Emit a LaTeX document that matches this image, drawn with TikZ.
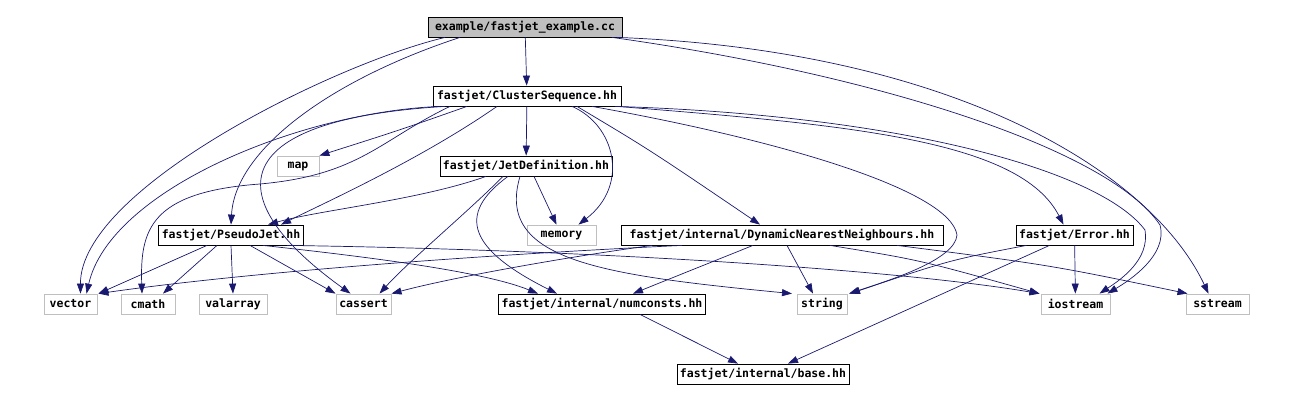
\documentclass[tikz,border=0pt]{standalone}
\usepackage{fontspec}
\setmonofont{DejaVu Sans Mono}
\usepackage{tikz}
\usetikzlibrary{arrows.meta}
\usepackage{xcolor}
\definecolor{depblue}{HTML}{191970}
\definecolor{sysgray}{HTML}{BFBFBF}
\tikzset{
 hdr/.style={draw=black, fill=white, line width=0.8pt, minimum height=20pt, inner sep=3pt,
  font=\ttfamily\bfseries\fontsize{11.5}{13}\selectfont},
 syshdr/.style={hdr, draw=sysgray},
 srcfile/.style={hdr, fill=sysgray},
 dep/.style={draw=depblue, line width=0.7pt, -{Triangle[length=10pt,width=7pt]}}
}

\begin{document}
\begin{tikzpicture}[x=1pt, y=-1pt]
 \useasboundingbox (0,0) rectangle (1289,401);
%
 \node[srcfile, minimum width=194pt] (root) at (525,27) {example/fastjet\_example.cc};
 \node[hdr, minimum width=188pt] (cs) at (527,96) {fastjet/ClusterSequence.hh};
%
 \node[syshdr, minimum width=42pt] (map) at (298,166) {map};
 \node[hdr, minimum width=164pt] (jetdef) at (526,166) {fastjet/JetDefinition.hh};
%
 \node[hdr, minimum width=144pt] (pseudojet) at (231,235) {fastjet/PseudoJet.hh};
 \node[syshdr, minimum width=69pt] (memory) at (561.5,235) {memory};
 \node[hdr, minimum width=322pt] (dnn) at (782,235) {fastjet/internal/DynamicNearestNeighbours.hh};
 \node[hdr, minimum width=115pt] (error) at (1074.5,235) {fastjet/Error.hh};
%
 \node[syshdr, minimum width=53pt] (vector) at (70.5,304) {vector};
 \node[syshdr, minimum width=54pt] (cmath) at (148,304) {cmath};
 \node[syshdr, minimum width=68pt] (valarray) at (233,304) {valarray};
 \node[syshdr, minimum width=55pt] (cassert) at (363.5,304) {cassert};
 \node[hdr, minimum width=204pt] (numconsts) at (602,304) {fastjet/internal/numconsts.hh};
 \node[syshdr, minimum width=50pt] (string) at (822,304) {string};
 \node[syshdr, minimum width=69pt] (iostream) at (1075.5,304) {iostream};
 \node[syshdr, minimum width=63pt] (sstream) at (1217.5,304) {sstream};
%
 \node[hdr, minimum width=164pt] (base) at (763,374) {fastjet/internal/base.hh};
%
 % example/fastjet_example.cc
 \draw[dep] (root) -- (cs);
 \draw[dep] ([xshift=-80pt]root.south) .. controls (330,65) and (80,190) .. ([xshift=10pt]vector.north);
 \draw[dep] ([xshift=-65pt]root.south) .. controls (330,80) and (235,150) .. (pseudojet.north);
 \draw[dep] ([xshift=87pt]root.south) .. controls (880,75) and (1110,150) .. (1160,225)
  .. controls (1168,255) and (1130,280) .. ([xshift=32pt]iostream.north);
 \draw[dep] ([xshift=92pt]root.south) .. controls (950,50) and (1150,170) .. ([xshift=-9pt]sstream.north);
%
 % fastjet/ClusterSequence.hh
 \draw[dep] (cs) -- (jetdef);
 \draw[dep] ([xshift=-60pt]cs.south) .. controls (400,130) .. (map.north east);
 \draw[dep] ([xshift=-87pt]cs.south) .. controls (300,112) and (110,190) .. ([xshift=16pt]vector.north);
 \draw[dep] ([xshift=-77pt]cs.south) .. controls (380,140) and (360,175) .. (260,184)
  .. controls (150,192) and (140,230) .. ([xshift=-6pt]cmath.north);
 \draw[dep] ([xshift=-82pt]cs.south) .. controls (220,120) and (220,200) .. ([xshift=-13pt]cassert.north);
 \draw[dep] ([xshift=-30pt]cs.south) .. controls (420,160) and (320,205) .. ([xshift=50pt]pseudojet.north);
 \draw[dep] ([xshift=45pt]cs.south) .. controls (615,125) and (630,185) .. ([xshift=17pt]memory.north);
 \draw[dep] ([xshift=50pt]cs.south) .. controls (650,150) .. ([xshift=-22pt]dnn.north);
 \draw[dep] ([xshift=90pt]cs.south) .. controls (850,125) and (1020,140) .. ([xshift=-11pt]error.north);
 \draw[dep] ([xshift=88pt]cs.south) .. controls (900,115) and (1100,170) .. (1145,230)
  .. controls (1150,260) and (1120,280) .. ([xshift=24pt]iostream.north);
 \draw[dep] ([xshift=65pt]cs.south) .. controls (780,140) and (950,190) .. (957,235)
  .. controls (955,260) and (890,280) .. ([xshift=27pt]string.north);
%
 % fastjet/JetDefinition.hh
 \draw[dep] ([xshift=8pt]jetdef.south) -- ([xshift=-5pt]memory.north);
 \draw[dep] ([xshift=-40pt]jetdef.south) .. controls (420,200) and (320,210) .. ([xshift=37pt]pseudojet.north);
 \draw[dep] ([xshift=-23pt]jetdef.south) .. controls (470,210) and (410,260) .. ([xshift=16pt]cassert.north);
 \draw[dep] ([xshift=-18pt]jetdef.south) .. controls (455,215) and (470,250) .. ([xshift=-45pt]numconsts.north);
 \draw[dep] ([xshift=-6pt]jetdef.south) .. controls (495,260) and (600,275) .. ([xshift=-30pt]string.north);
%
 % fastjet/PseudoJet.hh
 \draw[dep] ([xshift=-24pt]pseudojet.south) -- ([xshift=28pt]vector.north);
 \draw[dep] ([xshift=-14pt]pseudojet.south) -- ([xshift=15pt]cmath.north);
 \draw[dep] (pseudojet.south) -- (valarray.north);
 \draw[dep] ([xshift=19pt]pseudojet.south) -- ([xshift=-28pt]cassert.north);
 \draw[dep] ([xshift=32pt]pseudojet.south) .. controls (350,255) and (480,270) .. ([xshift=-64pt]numconsts.north);
 \draw[dep] ([xshift=56pt]pseudojet.south) .. controls (600,250) and (900,270) .. ([xshift=-36pt]iostream.north);
%
 % fastjet/internal/DynamicNearestNeighbours.hh
 \draw[dep] ([xshift=-100pt]dnn.south) .. controls (480,255) and (250,272) .. ([xshift=28pt]vector.north);
 \draw[dep] ([xshift=-130pt]dnn.south) .. controls (560,258) and (450,278) .. ([xshift=28pt]cassert.north);
 \draw[dep] ([xshift=-29pt]dnn.south) -- ([xshift=31pt]numconsts.north);
 \draw[dep] ([xshift=5pt]dnn.south) -- ([xshift=-9pt]string.north);
 \draw[dep] ([xshift=48pt]dnn.south) .. controls (920,260) .. ([xshift=-36pt]iostream.north);
 \draw[dep] ([xshift=115pt]dnn.south) .. controls (1050,265) .. ([xshift=-30pt]sstream.north);
%
 % fastjet/Error.hh
 \draw[dep] (error) -- (iostream);
 \draw[dep] ([xshift=-48pt]error.south) .. controls (950,260) .. ([xshift=28pt]string.north);
 \draw[dep] ([xshift=-25pt]error.south) -- ([xshift=25pt]base.north);
%
 % fastjet/internal/numconsts.hh
 \draw[dep] ([xshift=38pt]numconsts.south) -- ([xshift=-25pt]base.north);
\end{tikzpicture}
\end{document}
